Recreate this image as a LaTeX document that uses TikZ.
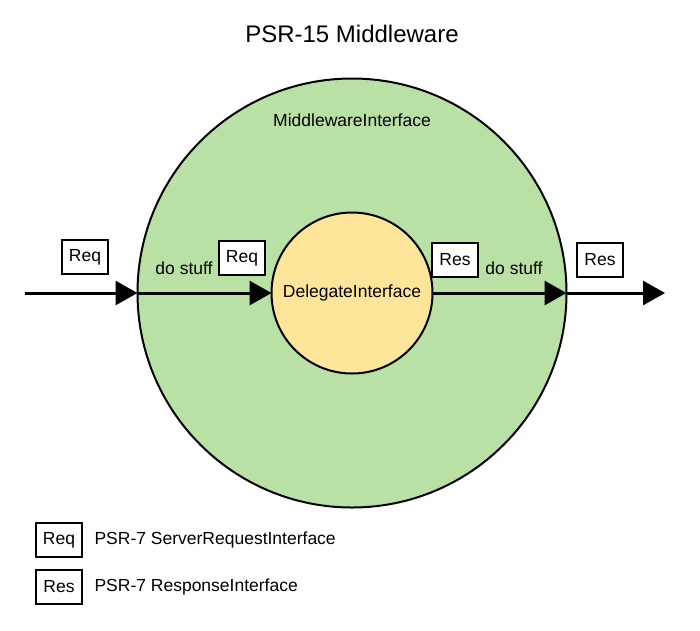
\documentclass[tikz,border=0pt]{standalone}
\usepackage{fontspec}
\setmainfont{Liberation Sans}
\usetikzlibrary{arrows.meta,positioning}
\definecolor{mwgreen}{HTML}{B9E0A5}
\definecolor{dgyellow}{HTML}{FFE599}

\begin{document}
\begin{tikzpicture}[x=1pt,y=-1pt,
                    every node/.style={font=\fontsize{17.5}{20}\selectfont},
                    ring/.style={circle,draw,line width=2pt,inner sep=0pt,outer sep=0pt},
                    msg/.style={draw,line width=2pt,fill=white,minimum width=46pt,
                                minimum height=34pt,inner sep=0pt},
                    flow/.style={line width=3pt,-{Triangle[length=22pt,width=24pt]}}]
\useasboundingbox (0,0) rectangle (700,630);

\node[font=\fontsize{24}{28}\selectfont] (title) at (352,34) {PSR-15 Middleware};

\node[ring,fill=mwgreen,minimum size=429pt] (mw) at (352,293) {};
\node (mwlabel) at (352,120) {MiddlewareInterface};
\node[ring,fill=dgyellow,minimum size=161pt] (dg) at (352,293) {DelegateInterface};

\coordinate (src) at (25,293);
\coordinate (dst) at (665,293);

\draw[flow] (src) -- (mw.west);
\draw[flow] (mw.west) -- (dg.west);
\draw[flow] (dg.east) -- (mw.east);
\draw[flow] (mw.east) -- (dst);

\node[msg] (reqin) at (85,257) {Req};
\node[msg] (reqdg) at (242,258) {Req};
\node[msg] (resdg) at (455,260) {Res};
\node[msg] (resout) at (600,260) {Res};

\node (pre) at (184,268) {do stuff};
\node (post) at (514,268) {do stuff};

% legend
\node[msg] (lreq) at (59,540) {Req};
\node[msg] (lres) at (59,587) {Res};
\node[right=8pt of lreq] (lreqtext) {PSR-7 ServerRequestInterface};
\node[right=8pt of lres] (lrestext) {PSR-7 ResponseInterface};

\end{tikzpicture}
\end{document}
